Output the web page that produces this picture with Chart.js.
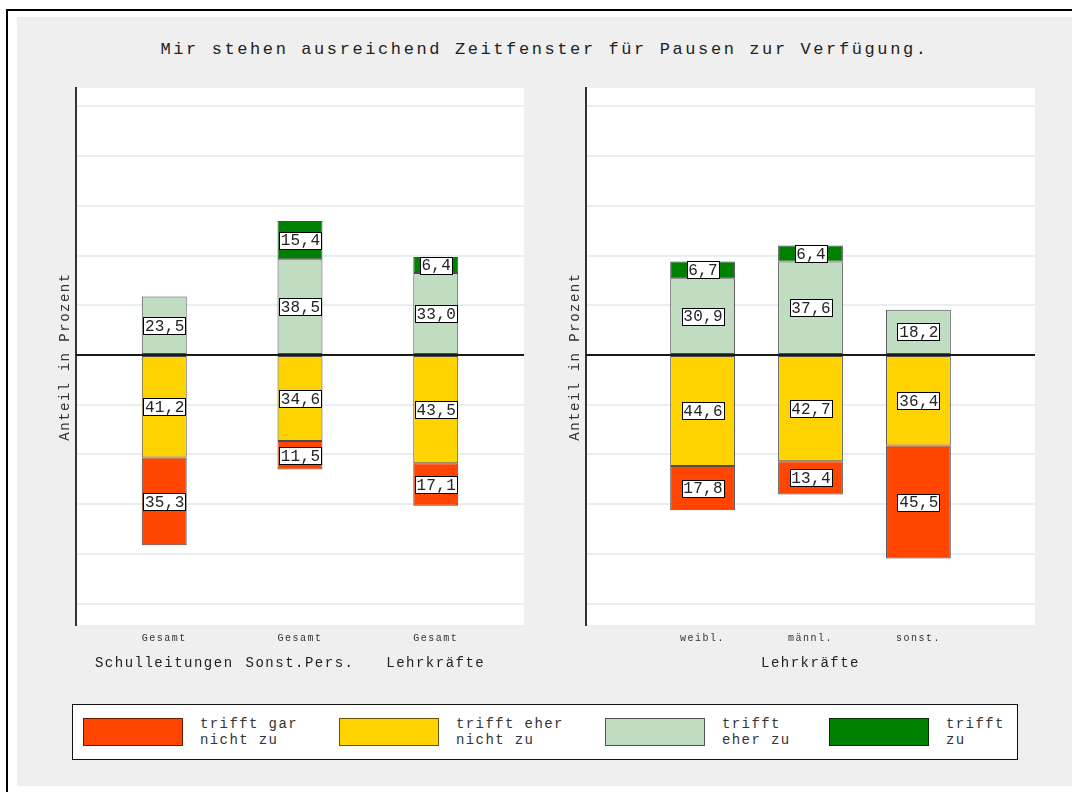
<!DOCTYPE html>
<html lang="de">
<head>
<meta charset="utf-8">
<title>Zeitfenster für Pausen</title>
<script src="https://cdn.jsdelivr.net/npm/chart.js@4.4.1/dist/chart.umd.min.js"></script>
<style>
  html, body { margin: 0; padding: 0; background: #fff; }
  body { width: 1072px; height: 792px; position: relative; overflow: hidden;
         font-family: "Liberation Mono", "DejaVu Sans Mono", monospace; color: #222; }
  .frame { position: absolute; left: 6px; top: 9px; right: 0; bottom: 0;
           border-left: 2px solid #000; border-top: 2px solid #000; }
  .panel { position: absolute; left: 17px; top: 17px; width: 1055px; height: 769px; background: #efefef; }
  .title { position: absolute; left: 17px; top: 40px; width: 1055px; text-align: center;
           font-size: 17px; letter-spacing: 2.6px; color: #222; }
  .chart-box { position: absolute; top: 80px; }
  #leftBox { left: 53px; }
  #rightBox { left: 563px; }
  .legend { position: absolute; left: 72px; top: 704px; width: 944px; height: 54px; background: #fff;
            border: 1px solid #111; }
  .legend-item { position: absolute; top: 0; bottom: 0; display: flex; align-items: center; gap: 17px; }
  .swatch { width: 100px; height: 28px; box-sizing: border-box; border: 1px solid rgba(0,0,0,.6); flex-shrink: 0; }
  .legend-text { font-size: 14px; letter-spacing: 1.4px; line-height: 16px; white-space: pre; color: #333; }
</style>
</head>
<body>
<div class="frame"></div>
<div class="panel"></div>
<div class="title" id="chartTitle"></div>
<div class="chart-box" id="leftBox"><canvas id="leftChart" width="480" height="610"></canvas></div>
<div class="chart-box" id="rightBox"><canvas id="rightChart" width="481" height="610"></canvas></div>
<div class="legend" id="legend"></div>

<script>
// --- DATA ---
const chartTitle = 'Mir stehen ausreichend Zeitfenster für Pausen zur Verfügung.';
const yAxisTitle = 'Anteil in Prozent';
const categories = ['trifft gar\nnicht zu', 'trifft eher\nnicht zu', 'trifft\neher zu', 'trifft\nzu'];
const colors = ['#FF4500', '#FFD300', '#C1DDC1', '#008000'];
const yGridValues = [-100, -80, -60, -40, -20, 0, 20, 40, 60, 80, 100];

// left panel: staff groups, all "Gesamt"
const leftGroups = ['Schulleitungen', 'Sonst.Pers.', 'Lehrkräfte'];
const leftSubLabels = ['Gesamt', 'Gesamt', 'Gesamt'];
const leftGarNicht = [35.3, 11.5, 17.1];
const leftEherNicht = [41.2, 34.6, 43.5];
const leftEherZu = [23.5, 38.5, 33.0];
const leftZu = [null, 15.4, 6.4];

// right panel: Lehrkräfte by gender
const rightGroups = ['Lehrkräfte'];
const rightSubLabels = ['weibl.', 'männl.', 'sonst.'];
const rightGarNicht = [17.8, 13.4, 45.5];
const rightEherNicht = [44.6, 42.7, 36.4];
const rightEherZu = [30.9, 37.6, 18.2];
const rightZu = [6.7, 6.4, null];

document.addEventListener('DOMContentLoaded', () => {
  const FONT = '"Liberation Mono", "DejaVu Sans Mono", monospace';
  const legendItemLeft = [10, 266, 532, 756]; // px inside the legend box

  document.getElementById('chartTitle').textContent = chartTitle;

  // --- LEGEND (shared by both panels) ---
  const legendEl = document.getElementById('legend');
  categories.forEach((label, i) => {
    const item = document.createElement('div');
    item.className = 'legend-item';
    item.style.left = legendItemLeft[i] + 'px';
    item.innerHTML = `<div class="swatch" style="background:${colors[i]}"></div><div class="legend-text"></div>`;
    item.querySelector('.legend-text').textContent = label;
    legendEl.appendChild(item);
  });

  // --- PLUGINS ---
  const formatValue = v => Math.abs(v).toFixed(1).replace('.', ',');

  const panelPlugin = {
    id: 'panelPlugin',
    beforeDraw(chart) {
      const { ctx, chartArea: a } = chart;
      ctx.save();
      ctx.fillStyle = '#fff';
      ctx.fillRect(a.left, a.top, a.right - a.left, a.bottom - a.top);
      ctx.restore();
      ctx.letterSpacing = '1.5px';
    },
    afterDatasetsDraw(chart) {
      const { ctx, chartArea: a, scales } = chart;
      // zero line on top of the bars
      const y0 = scales.y.getPixelForValue(0);
      ctx.save();
      ctx.strokeStyle = '#1a1a1a';
      ctx.lineWidth = 2;
      ctx.beginPath();
      ctx.moveTo(a.left, y0);
      ctx.lineTo(a.right, y0);
      ctx.stroke();

      // value boxes
      ctx.letterSpacing = '0.3px';
      ctx.font = `16px ${FONT}`;
      ctx.textAlign = 'center';
      ctx.textBaseline = 'middle';
      chart.data.datasets.forEach((ds, di) => {
        const meta = chart.getDatasetMeta(di);
        meta.data.forEach((el, i) => {
          const v = ds.data[i].y;
          if (v === null || v === undefined) return;
          const text = formatValue(v);
          const cx = el.x;
          const cy = (el.y + el.base) / 2;
          const w = Math.round(ctx.measureText(text).width + 2);
          const h = 17;
          const bx = Math.round(cx - w / 2) + 0.5;
          const by = Math.round(cy - h / 2) + 0.5;
          ctx.fillStyle = '#fff';
          ctx.fillRect(bx, by, w, h);
          ctx.strokeStyle = '#000';
          ctx.lineWidth = 1;
          ctx.strokeRect(bx, by, w, h);
          ctx.fillStyle = '#222';
          ctx.fillText(text, cx + 0.5, cy + 1);
        });
      });
      ctx.restore();
    }
  };

  // --- CHART BUILDER ---
  const toPoints = (values, sign) => values.map((v, i) => ({ x: i + 1, y: v === null ? null : sign * v }));

  const createPanel = (canvas, opts) => {
    const { groups, subLabels, garNicht, eherNicht, eherZu, zu, xMin, xMax, barPct } = opts;
    const groupPos = groups.length === subLabels.length
      ? groups.map((_, i) => i + 1)
      : [(1 + subLabels.length) / 2];

    const barDefaults = { borderColor: 'rgba(0,0,0,0.7)', borderWidth: 1, borderSkipped: false,
      categoryPercentage: 1, barPercentage: barPct };

    // negative stack first (nearest zero first), then positive stack
    const datasets = [
      { label: categories[1], data: toPoints(eherNicht, -1), backgroundColor: colors[1], ...barDefaults },
      { label: categories[0], data: toPoints(garNicht, -1), backgroundColor: colors[0], ...barDefaults },
      { label: categories[2], data: toPoints(eherZu, 1), backgroundColor: colors[2], ...barDefaults },
      { label: categories[3], data: toPoints(zu, 1), backgroundColor: colors[3], ...barDefaults }
    ];

    return new Chart(canvas, {
      type: 'bar',
      data: { datasets },
      options: {
        responsive: false,
        animation: false,
        layout: { padding: { top: 8, right: 9, left: 0, bottom: 0 } },
        plugins: { legend: { display: false }, tooltip: { enabled: false } },
        scales: {
          x: {
            type: 'linear', stacked: true, min: xMin, max: xMax, offset: false, weight: 0,
            afterBuildTicks: s => { s.ticks = subLabels.map((_, i) => ({ value: i + 1 })); },
            ticks: { callback: (v, i) => subLabels[i], font: { family: FONT, size: 10 }, color: '#333',
              padding: 7, maxRotation: 0, autoSkip: false },
            grid: { display: false, drawTicks: false },
            border: { display: false },
            afterFit: s => { s.height = 25; }
          },
          x2: {
            type: 'linear', position: 'bottom', min: xMin, max: xMax, offset: false, weight: 1,
            afterBuildTicks: s => { s.ticks = groupPos.map(p => ({ value: p })); },
            ticks: { callback: (v, i) => groups[i], font: { family: FONT, size: 14 }, color: '#222',
              padding: 5, maxRotation: 0, autoSkip: false },
            grid: { display: false, drawTicks: false },
            border: { display: false },
            afterFit: s => { s.height = 40; }
          },
          y: {
            stacked: true, min: -108.6, max: 107.4,
            afterBuildTicks: s => { s.ticks = yGridValues.map(v => ({ value: v })); },
            ticks: { display: false },
            grid: {
              color: ctx => (ctx.tick && ctx.tick.value === 0 ? '#1a1a1a' : '#e8eff2'),
              lineWidth: 2, drawTicks: false
            },
            border: { display: true, color: '#333', width: 2 },
            title: { display: true, text: yAxisTitle, color: '#333',
              font: { family: FONT, size: 14 }, padding: { top: 4, bottom: 0 } },
            afterFit: s => { s.width = 23; }
          }
        }
      },
      plugins: [panelPlugin]
    });
  };

  // --- INITIALIZATION ---
  createPanel(document.getElementById('leftChart'), {
    groups: leftGroups, subLabels: leftSubLabels,
    garNicht: leftGarNicht, eherNicht: leftEherNicht, eherZu: leftEherZu, zu: leftZu,
    xMin: 0.35, xMax: 3.65, barPct: 0.331
  });
  createPanel(document.getElementById('rightChart'), {
    groups: rightGroups, subLabels: rightSubLabels,
    garNicht: rightGarNicht, eherNicht: rightEherNicht, eherZu: rightEherZu, zu: rightZu,
    xMin: -0.08, xMax: 4.08, barPct: 0.6
  });
});
</script>
</body>
</html>
